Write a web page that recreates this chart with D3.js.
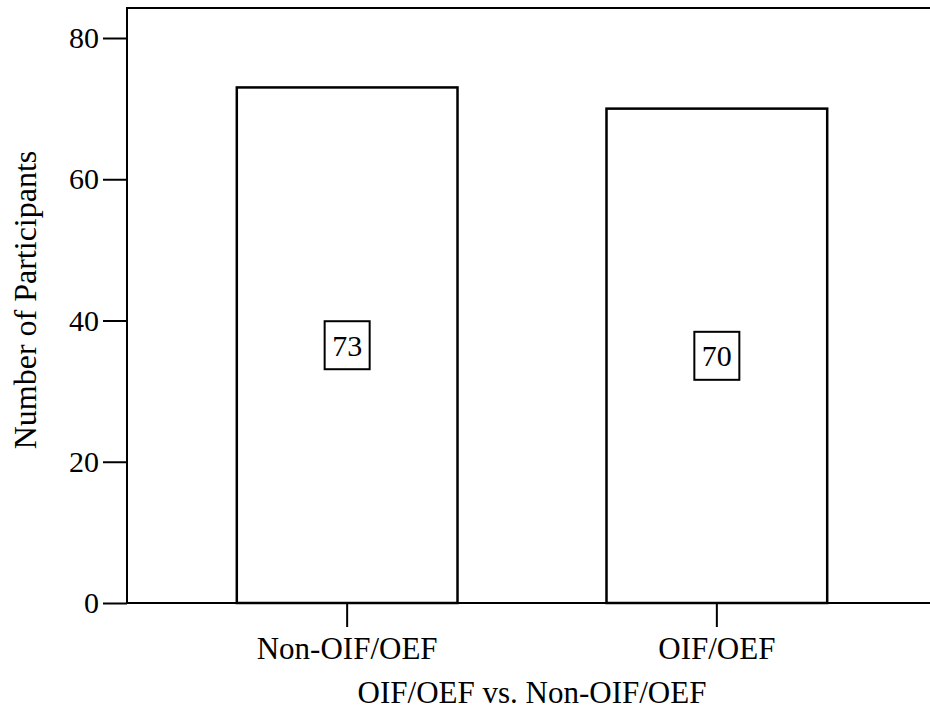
<!DOCTYPE html>
<html>
<head>
<meta charset="utf-8">
<script src="https://cdn.jsdelivr.net/npm/d3@7"></script>
<style>
  html, body { margin: 0; padding: 0; background: #fff; overflow: hidden; }
  svg { display: block; }
  text { font-family: "Liberation Serif", "Times New Roman", serif; fill: #000; }
</style>
</head>
<body>
<svg id="chart" width="930" height="712"></svg>
<script>
const categories = ["Non-OIF/OEF", "OIF/OEF"];
const values = [73, 70];
const yTicks = [0, 20, 40, 60, 80];
const xTitle = "OIF/OEF vs. Non-OIF/OEF";
const yTitle = "Number of Participants";

const svg = d3.select("#chart");
const plotLeft = 127, plotRight = 937, plotTop = 8, plotBottom = 603;

const x = d3.scaleBand().domain(categories).range([plotLeft, plotRight])
  .paddingInner(0.403).paddingOuter(0.297);
const y = d3.scaleLinear().domain([0, 80]).range([plotBottom, 38]);

// frame (top + left + bottom; right edge off-canvas)
svg.append("rect")
  .attr("x", plotLeft).attr("y", plotTop)
  .attr("width", plotRight - plotLeft).attr("height", plotBottom - plotTop)
  .attr("fill", "none").attr("stroke", "#000").attr("stroke-width", 2);

// bars
svg.selectAll("rect.bar").data(values).enter().append("rect")
  .attr("class", "bar")
  .attr("x", (d, i) => x(categories[i]))
  .attr("y", d => y(d))
  .attr("width", x.bandwidth())
  .attr("height", d => y(0) - y(d))
  .attr("fill", "#fff").attr("stroke", "#000").attr("stroke-width", 2.5);

// y axis
const yAxis = d3.axisLeft(y).tickValues(yTicks).tickSize(24).tickPadding(4);
const gy = svg.append("g").attr("transform", `translate(${plotLeft},0)`).call(yAxis);
gy.select(".domain").remove();
gy.selectAll(".tick line").attr("stroke", "#000").attr("stroke-width", 2);
gy.selectAll(".tick text").style("font-family", "Liberation Serif").style("font-size", "30px").attr("fill", "#000");

// x axis
const xAxis = d3.axisBottom(x).tickSize(24).tickPadding(10);
const gx = svg.append("g").attr("transform", `translate(0,${plotBottom})`).call(xAxis);
gx.select(".domain").remove();
gx.selectAll(".tick line").attr("stroke", "#000").attr("stroke-width", 2);
gx.selectAll(".tick text").style("font-family", "Liberation Serif").style("font-size", "31px").attr("fill", "#000");

// value labels in boxes
const lab = svg.selectAll("g.lab").data(values).enter().append("g").attr("class", "lab")
  .attr("transform", (d, i) => `translate(${x(categories[i]) + x.bandwidth() / 2},${(y(d) + y(0)) / 2})`);
lab.append("rect")
  .attr("x", -22.5).attr("y", -24).attr("width", 45).attr("height", 48)
  .attr("fill", "#fff").attr("stroke", "#000").attr("stroke-width", 2);
lab.append("text")
  .attr("text-anchor", "middle").attr("dy", "0.35em")
  .style("font-size", "30px")
  .text(d => d);

// titles
svg.append("text")
  .attr("x", (plotLeft + plotRight) / 2).attr("y", 703)
  .attr("text-anchor", "middle").style("font-size", "31px")
  .text(xTitle);
svg.append("text")
  .attr("transform", "translate(36,300) rotate(-90)")
  .attr("text-anchor", "middle").style("font-size", "32px")
  .text(yTitle);
</script>
</body>
</html>
